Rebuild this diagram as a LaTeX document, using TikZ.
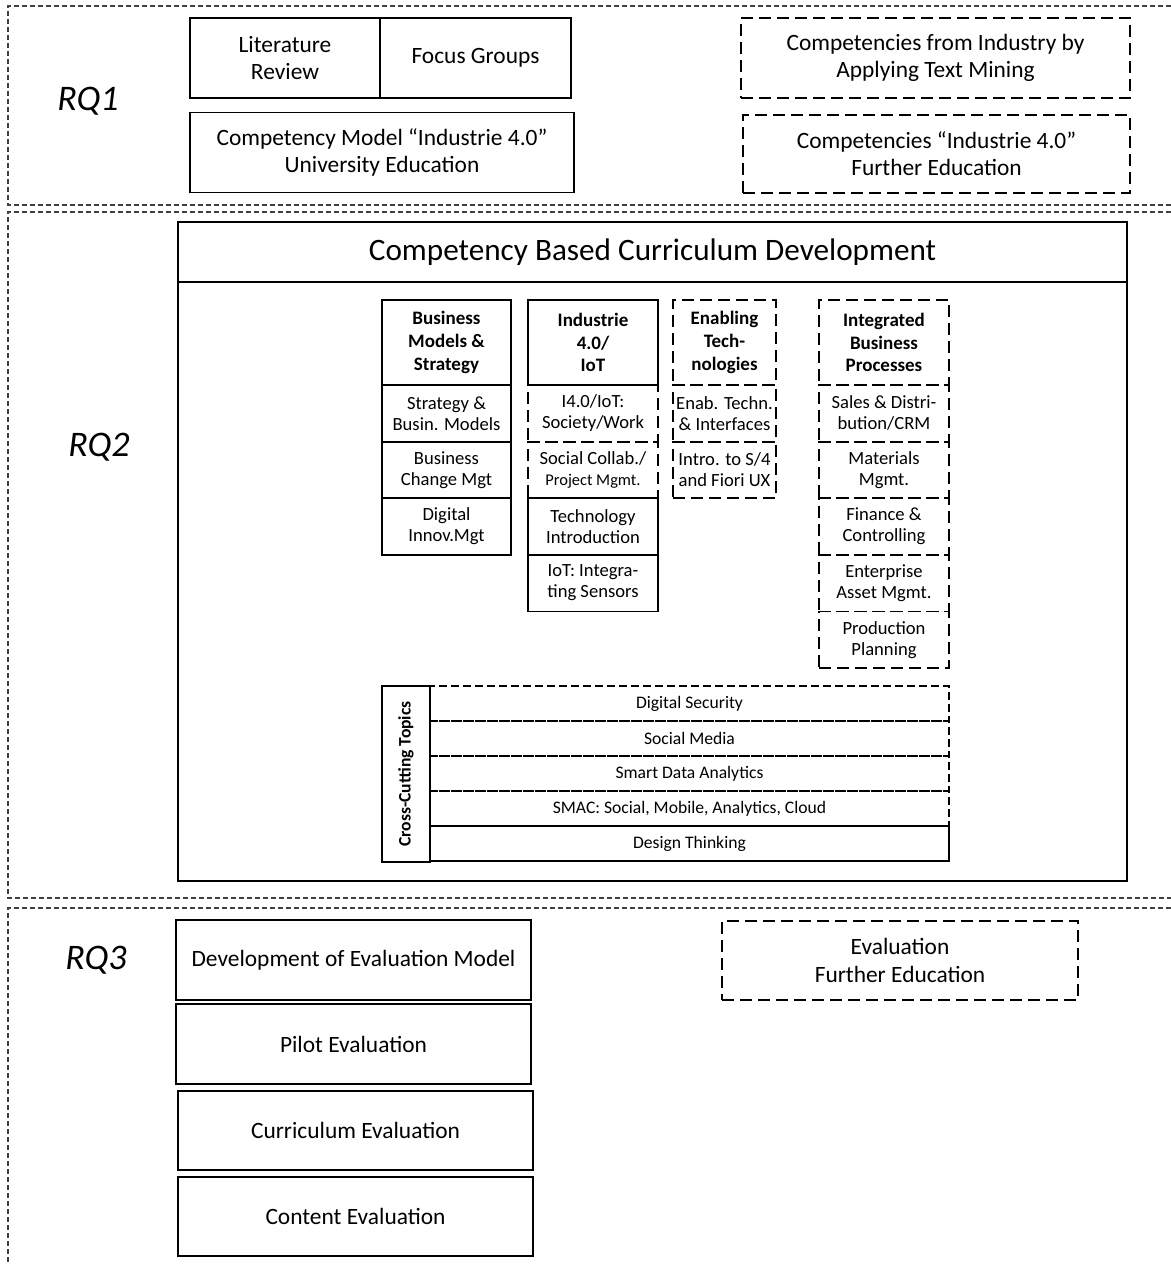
\documentclass[tikz,border=0pt]{standalone}
\usepackage{fontspec}
\setmainfont{Carlito}
\usepackage{tikz}
\usetikzlibrary{positioning}

\tikzset{
  region/.style={draw=black!75, line width=0.6pt, dash pattern=on 2.5pt off 1.5pt},
  box/.style={draw, line width=0.9pt, align=center, inner sep=1pt, outer sep=0pt,
    font=\fontsize{11.7}{13.6}\selectfont},
  dbox/.style={box, dash pattern=on 6pt off 3pt},
  rqlabel/.style={font=\itshape\fontsize{18}{20}\selectfont},
  head/.style={box, minimum height=42.5pt, font=\bfseries\fontsize{9.5}{11.3}\selectfont},
  dhead/.style={head, dash pattern=on 6pt off 3pt},
  cell/.style={box, minimum height=28.3pt, font=\fontsize{9.3}{10.5}\selectfont},
  dcell/.style={cell, dash pattern=on 6pt off 3pt},
  topic/.style={box, minimum width=259.5pt, minimum height=17.5pt, font=\fontsize{8.8}{10.5}\selectfont},
  dtopic/.style={topic, dash pattern=on 4pt off 2pt}
}

\begin{document}
\begin{tikzpicture}[x=0.5pt,y=-0.5pt]
\useasboundingbox (0,0) rectangle (1171,1264);

% Regions
\draw[region] (1171,6) -| (8,205) -- (1171,205);
\draw[region] (1171,212) -| (8,898) -- (1171,898);
\draw[region] (1171,908) -| (8,1264);

\node[rqlabel] (rq1) at (88,101) {RQ1};
\node[rqlabel] (rq2) at (99,447) {RQ2};
\node[rqlabel] (rq3) at (96,960) {RQ3};

% RQ1
\node[box, minimum width=95pt, minimum height=40pt] (litrev) at (285,58) {Literature\\Review};
\node[box, minimum width=95.5pt, minimum height=40pt, right=0pt of litrev] (focus) {Focus Groups};
\node[box, minimum width=192pt, minimum height=40pt] (compuni) at (382,152.5) {Competency Model ``Industrie 4.0''\\University Education};
\node[dbox, minimum width=194.5pt, minimum height=40pt] (textmining) at (935.5,58) {Competencies from Industry by\\Applying Text Mining};
\node[dbox, minimum width=193.5pt, minimum height=39pt] (compfurther) at (936.5,154) {Competencies ``Industrie 4.0''\\Further Education};

% RQ2
\node[box, minimum width=474.5pt, minimum height=30pt, font=\fontsize{15.6}{18}\selectfont] (curhead) at (652.5,252) {Competency Based Curriculum Development};
\node[box, minimum width=474.5pt, minimum height=299.5pt, below=0pt of curhead] (curbody) {};

% Business Models & Strategy
\node[head, minimum width=64.5pt] (bmhead) at (446.5,342.5) {Business\\Models \&\\Strategy};
\node[cell, minimum width=64.5pt, below=0pt of bmhead] (bm1) {Strategy \&\\Busin. Models};
\node[cell, minimum width=64.5pt, below=0pt of bm1] (bm2) {Business\\Change Mgt};
\node[cell, minimum width=64.5pt, below=0pt of bm2] (bm3) {Digital\\Innov.Mgt};

% Industrie 4.0 / IoT
\node[head, minimum width=65pt] (iothead) at (593,342.5) {Industrie\\4.0/\\IoT};
\node[dcell, minimum width=65pt, below=0pt of iothead] (iot1) {I4.0/IoT:\\Society/Work};
\node[dcell, minimum width=65pt, below=0pt of iot1] (iot2) {Social Collab./\\{\fontsize{8.2}{9.5}\selectfont Project Mgmt.}};
\node[cell, minimum width=65pt, below=0pt of iot2] (iot3) {Technology\\Introduction};
\node[cell, minimum width=65pt, below=0pt of iot3] (iot4) {IoT: Integra-\\ting Sensors};

% Enabling Technologies
\node[dhead, minimum width=51.5pt] (enhead) at (724.5,342.5) {Enabling\\Tech-\\nologies};
\node[dcell, minimum width=51.5pt, below=0pt of enhead] (en1) {Enab. Techn.\\\& Interfaces};
\node[dcell, minimum width=51.5pt, below=0pt of en1] (en2) {Intro. to S/4\\and Fiori UX};

% Integrated Business Processes
\node[dhead, minimum width=65pt] (ibphead) at (884,342.5) {Integrated\\Business\\Processes};
\node[dcell, minimum width=65pt, below=0pt of ibphead] (ibp1) {Sales \& Distri-\\bution/CRM};
\node[dcell, minimum width=65pt, below=0pt of ibp1] (ibp2) {Materials\\Mgmt.};
\node[dcell, minimum width=65pt, below=0pt of ibp2] (ibp3) {Finance \&\\Controlling};
\node[dcell, minimum width=65pt, below=0pt of ibp3] (ibp4) {Enterprise\\Asset Mgmt.};
\node[dcell, minimum width=65pt, below=0pt of ibp4] (ibp5) {Production\\Planning};

% Cross-Cutting Topics
\node[box, rotate=90, minimum width=88pt, minimum height=24pt, font=\bfseries\fontsize{8.8}{10.5}\selectfont] (cross) at (406,774) {Cross-Cutting Topics};
\node[dtopic] (security) at (689.5,703.5) {Digital Security};
\node[dtopic, below=0pt of security] (media) {Social Media};
\node[dtopic, below=0pt of media] (analytics) {Smart Data Analytics};
\node[dtopic, below=0pt of analytics] (smac) {SMAC: Social, Mobile, Analytics, Cloud};
\node[topic, below=0pt of smac] (design) {Design Thinking};

% RQ3
\node[box, minimum width=177.5pt, minimum height=40pt] (evalmodel) at (353.5,960) {Development of Evaluation Model};
\node[box, minimum width=177.5pt, minimum height=40pt] (piloteval) at (353.5,1044) {Pilot Evaluation};
\node[box, minimum width=177.5pt, minimum height=39.5pt] (curreval) at (355.5,1130.5) {Curriculum Evaluation};
\node[box, minimum width=177.5pt, minimum height=39.5pt] (conteval) at (355.5,1216.5) {Content Evaluation};
\node[dbox, minimum width=178pt, minimum height=39.5pt] (evalfurther) at (900,960.5) {Evaluation\\Further Education};

\end{tikzpicture}
\end{document}
